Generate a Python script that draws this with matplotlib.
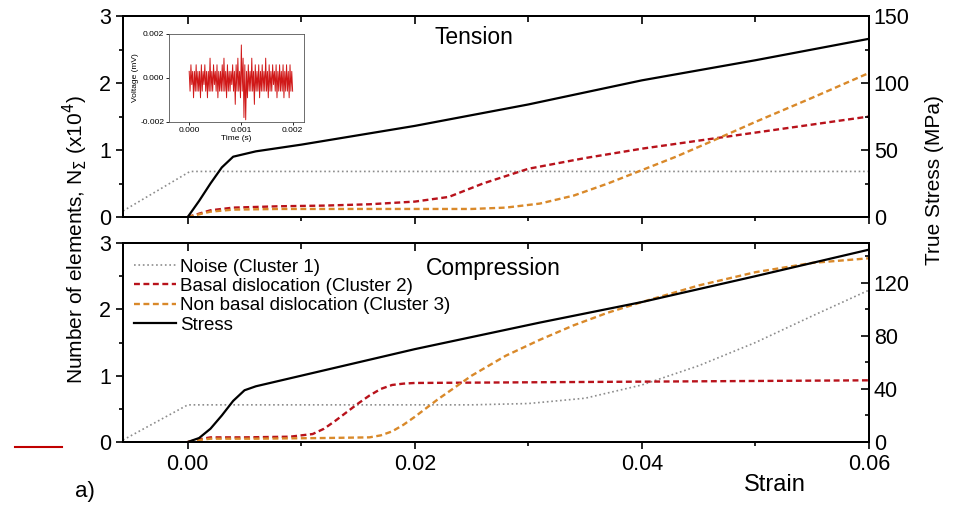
import numpy as np
import matplotlib
matplotlib.use("Agg")
import matplotlib.pyplot as plt
from matplotlib.ticker import MultipleLocator
from matplotlib.lines import Line2D

plt.rcParams['font.family'] = ['Liberation Sans', 'DejaVu Sans']

# ---- Tension data ----
ten_noise_x = [-0.0057, 0.0002, 0.06]
ten_noise_y = [0.09, 0.68, 0.68]
ten_basal_x = [0, 0.001, 0.002, 0.004, 0.008, 0.012, 0.016, 0.02, 0.023, 0.026, 0.03,
               0.035, 0.04, 0.045, 0.05, 0.055, 0.06]
ten_basal_y = [0, 0.05, 0.1, 0.14, 0.16, 0.17, 0.19, 0.23, 0.3, 0.5, 0.72,
               0.88, 1.02, 1.14, 1.26, 1.38, 1.5]
ten_nonbasal_x = [0, 0.001, 0.002, 0.004, 0.008, 0.015, 0.02, 0.025, 0.028, 0.031, 0.034,
                  0.037, 0.04, 0.043, 0.046, 0.05, 0.055, 0.06]
ten_nonbasal_y = [0, 0.04, 0.08, 0.11, 0.12, 0.12, 0.12, 0.12, 0.14, 0.2, 0.32,
                  0.5, 0.7, 0.9, 1.12, 1.42, 1.78, 2.15]
ten_stress_x = [0.0, 0.001, 0.002, 0.003, 0.004, 0.006, 0.01, 0.015, 0.02, 0.03, 0.04, 0.05, 0.06]
ten_stress_y = [0, 12, 25, 37, 45, 49, 54, 61, 68, 84, 102, 117, 133]

# ---- Compression data ----
comp_noise_x = [-0.0057, 0.0, 0.025, 0.03, 0.035, 0.04, 0.045, 0.05, 0.055, 0.06]
comp_noise_y = [0.03, 0.56, 0.56, 0.58, 0.66, 0.86, 1.15, 1.5, 1.9, 2.29]
comp_basal_x = [0, 0.001, 0.002, 0.005, 0.009, 0.011, 0.012, 0.013, 0.014, 0.015, 0.016,
                0.017, 0.018, 0.019, 0.02, 0.03, 0.04, 0.05, 0.06]
comp_basal_y = [0, 0.04, 0.07, 0.07, 0.08, 0.12, 0.2, 0.32, 0.45, 0.58, 0.7,
                0.8, 0.86, 0.88, 0.89, 0.9, 0.91, 0.92, 0.93]
comp_nonbasal_x = [0, 0.001, 0.002, 0.006, 0.012, 0.016, 0.017, 0.018, 0.019, 0.02, 0.022,
                   0.025, 0.028, 0.031, 0.034, 0.037, 0.04, 0.045, 0.05, 0.055, 0.06]
comp_nonbasal_y = [0, 0.03, 0.05, 0.05, 0.06, 0.07, 0.1, 0.16, 0.26, 0.38, 0.64,
                   1.0, 1.3, 1.54, 1.76, 1.95, 2.11, 2.36, 2.56, 2.7, 2.77]
comp_stress_x = [0, 0.001, 0.002, 0.003, 0.004, 0.005, 0.006, 0.01, 0.02, 0.031, 0.04, 0.05, 0.06]
comp_stress_y = [0, 3, 10, 20, 31, 39, 42, 50, 70, 90, 105.5, 125, 145]

# ---- inset noise signal (mV) ----
voltage = [0.0003, -0.0006, 0.0006, -0.0003, 0.0003, -0.0009, 0.0003, -0.0006, 0.0006, -0.0006,
           0.0003, -0.0006, 0.0003, -0.0009, 0.0006, -0.0006, 0.0003, -0.0003, 0.0006, -0.0006,
           0.0003, -0.0009, 0.0003, -0.0006, 0.0009, -0.0006, 0.0003, -0.0006, 0.0006, -0.0003,
           0.0003, -0.0006, 0.0006, -0.0009, 0.0003, -0.0006, 0.0003, -0.0006, 0.0006, -0.0006,
           0.0009, -0.0006, 0.0003, -0.0009, 0.0006, -0.0006, 0.0003, -0.0006, 0.0003, -0.0003,
           0.0006, -0.0006, 0.0003, -0.0012, 0.0006, -0.0006, 0.0009, -0.0006, 0.0003, -0.0009,
           0.0015, -0.0006, 0.0009, -0.0018, 0.0006, -0.0019, 0.0003, -0.0009, 0.0006, -0.0006,
           0.0003, -0.0006, 0.0009, -0.0006, 0.0003, -0.0012, 0.0006, -0.0006, 0.0003, -0.0006,
           0.0006, -0.0009, 0.0003, -0.0006, 0.0006, -0.0006, 0.0003, -0.0006, 0.0009, -0.0006,
           0.0003, -0.0009, 0.0006, -0.0006, 0.0003, -0.0006, 0.0006, -0.0003, 0.0003, -0.0006,
           0.0006, -0.0009, 0.0003, -0.0006, 0.0006, -0.0006, 0.0003, -0.0006, 0.0006, -0.0009,
           0.0003, -0.0006, 0.0006, -0.0006, 0.0003, -0.0009, 0.0006, -0.0006, 0.0003, -0.0006]
time_s = np.linspace(0, 0.002, len(voltage))

c_noise = '#8c8c8c'
c_basal = '#b8121b'
c_nonbasal = '#d9892a'
TICK_FS = 15.5

fig = plt.figure(figsize=(9.56, 5.07), dpi=100)
ax_t = fig.add_axes([0.1287, 0.572, 0.7803, 0.3964])
ax_c = fig.add_axes([0.1287, 0.1282, 0.7803, 0.3925])


def style_panel(ax, ax2, stress_step):
    ax.set_xlim(-0.0057, 0.06)
    ax.set_ylim(0, 3)
    ax2.set_ylim(0, 150)
    ax.xaxis.set_major_locator(MultipleLocator(0.02))
    ax.xaxis.set_minor_locator(MultipleLocator(0.01))
    ax.yaxis.set_major_locator(MultipleLocator(1))
    ax.yaxis.set_minor_locator(MultipleLocator(0.5))
    ax2.yaxis.set_major_locator(MultipleLocator(stress_step))
    ax2.yaxis.set_minor_locator(MultipleLocator(stress_step / 2))
    ax.tick_params(axis='x', which='both', direction='out', top=False, labelsize=TICK_FS)
    ax.tick_params(axis='x', which='major', length=5, width=1.2)
    ax.tick_params(axis='x', which='minor', length=3, width=1.2)
    ax.tick_params(axis='y', which='both', direction='out', labelsize=TICK_FS, width=1.2)
    ax.tick_params(axis='y', which='major', length=5)
    ax.tick_params(axis='y', which='minor', length=3)
    ax2.tick_params(axis='y', which='both', direction='in', labelsize=TICK_FS, width=1.2)
    ax2.tick_params(axis='y', which='major', length=6)
    ax2.tick_params(axis='y', which='minor', length=3)
    for a in (ax, ax2):
        for s in a.spines.values():
            s.set_linewidth(1.4)


def draw(ax, nx, ny, bx, by, ox, oy, sx, sy, stress_step, title, tx, ty):
    ax2 = ax.twinx()
    l1, = ax.plot(nx, ny, ls=':', color=c_noise, lw=1.2, label='Noise (Cluster 1)')
    l2, = ax.plot(bx, by, ls=(0, (2.5, 1.5)), color=c_basal, lw=1.7,
                  label='Basal dislocation (Cluster 2)')
    l3, = ax.plot(ox, oy, ls=(0, (2.5, 1.5)), color=c_nonbasal, lw=1.7,
                  label='Non basal dislocation (Cluster 3)')
    l4, = ax2.plot(sx, sy, color='black', lw=1.6, label='Stress')
    style_panel(ax, ax2, stress_step)
    ax.text(tx, ty, title, transform=ax.transAxes, ha='center', va='center', fontsize=16.5)
    return ax2, [l1, l2, l3, l4]


ax_t2, _ = draw(ax_t, ten_noise_x, ten_noise_y, ten_basal_x, ten_basal_y,
                ten_nonbasal_x, ten_nonbasal_y, ten_stress_x, ten_stress_y, 50,
                'Tension', 0.47, 0.895)
ax_t.tick_params(axis='x', labelbottom=False)
ax_c2, handles = draw(ax_c, comp_noise_x, comp_noise_y, comp_basal_x, comp_basal_y,
                      comp_nonbasal_x, comp_nonbasal_y, comp_stress_x, comp_stress_y, 40,
                      'Compression', 0.497, 0.872)
ax_c2.set_yticks([0, 40, 80, 120])

# top ticks pointing inward
for ax in (ax_t, ax_c):
    sec = ax.secondary_xaxis('top')
    sec.xaxis.set_major_locator(MultipleLocator(0.02))
    sec.xaxis.set_minor_locator(MultipleLocator(0.01))
    sec.tick_params(which='both', direction='in', labeltop=False, width=1.2)
    sec.tick_params(which='major', length=6)
    sec.tick_params(which='minor', length=4)
    sec.spines['top'].set_linewidth(1.4)

ax_c.legend(handles=handles, loc='upper left', frameon=False, fontsize=13.5,
            handlelength=2.2, handletextpad=0.25, labelspacing=0.12,
            borderaxespad=0.0, bbox_to_anchor=(0.005, 0.96))

# inset
ins = fig.add_axes([0.1768, 0.7594, 0.1412, 0.1736])
ins.plot(time_s, voltage, color='#d01818', lw=0.7)
ins.set_xlim(-0.00039, 0.00222)
ins.set_ylim(-0.002, 0.002)
ins.set_xticks([0.0, 0.001, 0.002])
ins.set_yticks([-0.002, 0.0, 0.002])
ins.set_xticklabels(['0.000', '0.001', '0.002'])
ins.set_yticklabels(['-0.002', '0.000', '0.002'])
ins.tick_params(labelsize=6, length=2, width=0.6, pad=1.5)
ins.set_xlabel('Time (s)', fontsize=6, labelpad=0.5)
ins.set_ylabel('Voltage (mV)', fontsize=6, labelpad=0.5)
for s in ins.spines.values():
    s.set_linewidth(0.6)
    s.set_color('#555555')

fig.text(0.079, 0.527, r'Number of elements, N$_\Sigma$ (x10$^4$)', rotation=90,
         ha='center', va='center', fontsize=15)
fig.text(0.978, 0.645, 'True Stress (MPa)', rotation=90, ha='center', va='center', fontsize=15)
fig.text(0.81, 0.043, 'Strain', ha='center', va='center', fontsize=17)
fig.text(0.089, 0.03, 'a)', ha='center', va='center', fontsize=16)
fig.add_artist(Line2D([15 / 956, 62 / 956], [1 - 447 / 507, 1 - 447 / 507],
                      color='#c00000', lw=1.5, transform=fig.transFigure))

fig.savefig('out.png', dpi=100)
